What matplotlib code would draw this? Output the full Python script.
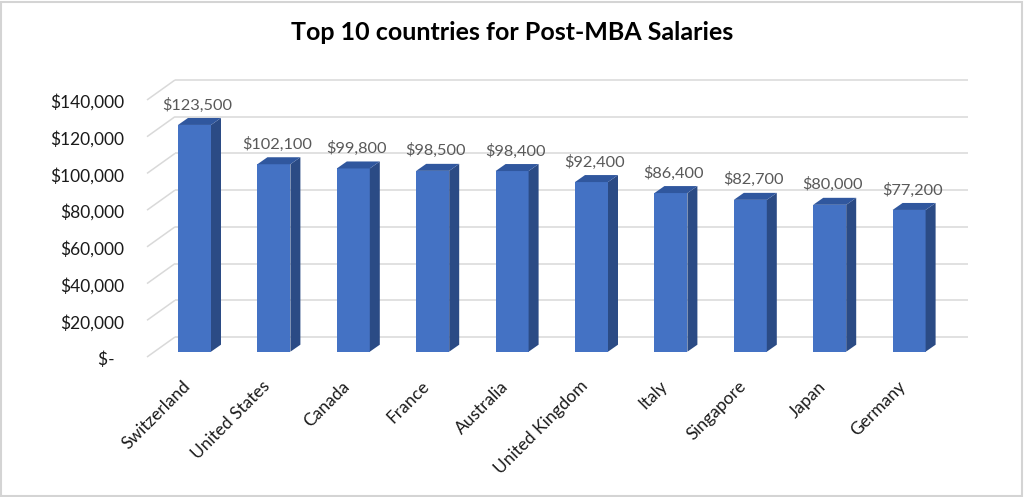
import matplotlib
matplotlib.use("Agg")
import matplotlib.pyplot as plt
from matplotlib.patches import Polygon, Rectangle

# ---------------- data ----------------
countries = ["Switzerland", "United States", "Canada", "France", "Australia",
             "United Kingdom", "Italy", "Singapore", "Japan", "Germany"]
salaries = [123500, 102100, 99800, 98500, 98400, 92400, 86400, 82700, 80000, 77200]
value_labels = ["$123,500", "$102,100", "$99,800", "$98,500", "$98,400",
                "$92,400", "$86,400", "$82,700", "$80,000", "$77,200"]
yticks = [0, 20000, 40000, 60000, 80000, 100000, 120000, 140000]
ytick_labels = ["$-  ", "$20,000", "$40,000", "$60,000", "$80,000",
                "$100,000", "$120,000", "$140,000"]
title = "Top 10 countries for Post-MBA Salaries"

# ---------------- style / layout ----------------
plt.rcParams["font.family"] = ["Lato", "DejaVu Sans"]
FRONT = "#4472C4"
SIDE = "#2B4B85"
TOP = "#30579E"
GRID = "#d9d9d9"

W, H = 1024, 497
fig = plt.figure(figsize=(W / 100, H / 100), dpi=100)

# pixel geometry of the projected plot
L_PX, R_PX, T_PX, B_PX = 140, 975, 70, 365
X0_PX, STEP_PX = 194.5, 79.4          # first bar centre, bar spacing
Y0_PX, K = 351.7, 0.001836            # zero level of bar plane, px per dollar

ax = fig.add_axes([L_PX / W, 1 - B_PX / H, (R_PX - L_PX) / W, (B_PX - T_PX) / H])
ax.set_xlim((L_PX - X0_PX) / STEP_PX, (R_PX - X0_PX) / STEP_PX)
ax.set_ylim((Y0_PX - B_PX) / K, (Y0_PX - T_PX) / K)
ax.axis("off")


def dx(px):
    return px / STEP_PX


def dy(px):
    return px / K


# depth of bars and walls (pixels)
BAR_DX, BAR_DY = 10, 7
BACK_DY = 14.7
SIDE_FRONT_X, SIDE_FRONT_DY = 147, -5.3
BACK_LEFT_X, BACK_RIGHT_X = 175, 968

# gridlines: left side wall diagonal + back wall horizontal
xf = (SIDE_FRONT_X - X0_PX) / STEP_PX
xb = (BACK_LEFT_X - X0_PX) / STEP_PX
xr = (BACK_RIGHT_X - X0_PX) / STEP_PX
for t in yticks:
    ax.plot([xf, xb], [t + dy(SIDE_FRONT_DY), t + dy(BACK_DY)], color=GRID, lw=1.1, zorder=1,
            solid_capstyle="butt")
    ax.plot([xb, xr], [t + dy(BACK_DY), t + dy(BACK_DY)], color=GRID, lw=1.1, zorder=1,
            solid_capstyle="butt")

# y tick labels
for t, lab in zip(yticks, ytick_labels):
    ax.text((124 - X0_PX) / STEP_PX, t - dy(7.8), lab, ha="right", va="center",
            fontsize=12.5, color="#1a1a1a", clip_on=False)

# bars
xs = list(range(len(countries)))
bw = 33 / STEP_PX
ax.bar(xs, salaries, width=bw, color=FRONT, zorder=3, edgecolor="none")
for x, v in zip(xs, salaries):
    r = x + bw / 2
    l = x - bw / 2
    side = Polygon([(r, 0), (r + dx(BAR_DX), dy(BAR_DY)), (r + dx(BAR_DX), v + dy(BAR_DY)), (r, v)],
                   closed=True, facecolor=SIDE, edgecolor="none", zorder=3)
    top = Polygon([(l, v), (r, v), (r + dx(BAR_DX), v + dy(BAR_DY)), (l + dx(BAR_DX), v + dy(BAR_DY))],
                  closed=True, facecolor=TOP, edgecolor="none", zorder=3)
    ax.add_patch(side)
    ax.add_patch(top)

# value labels
for x, v, lab in zip(xs, salaries, value_labels):
    ax.text(x + dx(3), v + dy(BAR_DY + 5.5), lab, ha="center", va="bottom",
            fontsize=11.8, color="#595959", zorder=4)

# category labels
for x, c in zip(xs, countries):
    ax.text(x - dx(12), (Y0_PX - 378) / K, c, rotation=45, ha="right", va="top",
            rotation_mode="anchor", fontsize=12.5, color="#1a1a1a", clip_on=False)

# title
fig.text(0.5, 1 - 33 / H, title, ha="center", va="center", fontsize=18,
         fontweight="bold", color="#000000")

# chart frame
fig.patches.append(Rectangle((1 / W, 1 / H), (W - 3) / W, (H - 3) / H, transform=fig.transFigure,
                             facecolor="none", edgecolor="#d4d4d4", lw=1.5))

fig.savefig("out.png", dpi=100, facecolor="white")
